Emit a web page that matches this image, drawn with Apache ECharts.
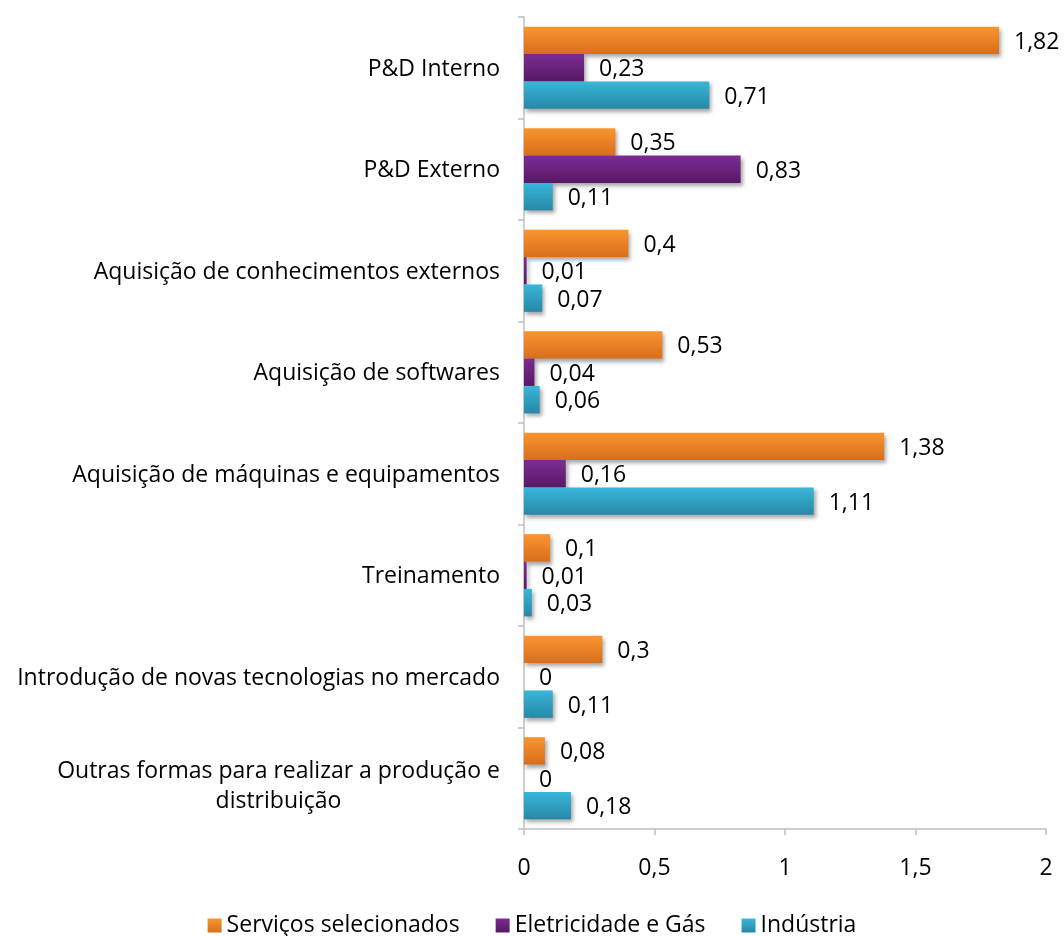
<!DOCTYPE html>
<html lang="pt-BR">
<head>
    <meta charset="UTF-8">
    <title>Atividades inovativas</title>
    <script src="https://cdn.jsdelivr.net/npm/echarts@6/dist/echarts.min.js"></script>
    <style>
        html, body { margin: 0; padding: 0; background: #fff; }
    </style>
</head>
<body>
<div id="main" style="width: 1064px;height:936px;"></div>
<script type="text/javascript">
    // categorias (de cima para baixo)
    var categorias = [
        'P&D Interno',
        'P&D Externo',
        'Aquisição de conhecimentos externos',
        'Aquisição de softwares',
        'Aquisição de máquinas e equipamentos',
        'Treinamento',
        'Introdução de novas tecnologias no mercado',
        'Outras formas para realizar a produção e\ndistribuição'
    ];
    var servicos = [1.82, 0.35, 0.4, 0.53, 1.38, 0.1, 0.3, 0.08];
    var eletricidade = [0.23, 0.83, 0.01, 0.04, 0.16, 0.01, 0, 0];
    var industria = [0.71, 0.11, 0.07, 0.06, 1.11, 0.03, 0.11, 0.18];
    var nomesSeries = ['Serviços selecionados', 'Eletricidade e Gás', 'Indústria'];
    var ticksX = [0, 0.5, 1, 1.5, 2];

    var fonte = '"Open Sans", sans-serif';
    var tam = 23;

    function virgula(v) {
        return String(v).replace('.', ',');
    }

    function gradiente(c1, c2) {
        return new echarts.graphic.LinearGradient(0, 0, 0, 1, [
            {offset: 0, color: c1},
            {offset: 1, color: c2}
        ]);
    }

    function serie(nome, dados, c1, c2) {
        return {
            name: nome,
            type: 'bar',
            data: dados,
            barGap: '0%',
            barCategoryGap: '19%',
            itemStyle: {
                color: gradiente(c1, c2),
                shadowColor: 'rgba(0,0,0,0.35)',
                shadowBlur: 4,
                shadowOffsetX: 2,
                shadowOffsetY: 3
            },
            label: {
                show: true,
                position: 'right',
                distance: 15,
                offset: [0, 2],
                color: '#000',
                fontFamily: fonte,
                fontSize: tam,
                formatter: function (p) { return virgula(p.value); }
            },
            emphasis: {disabled: true}
        };
    }

    var myEChart = echarts.init(document.getElementById('main'));
    myEChart.setOption({
        animation: false,
        color: ['#F28A2A', '#6E2683', '#2FA5C8'],
        grid: {left: 524, right: 18, top: 17, bottom: 107, containLabel: false},
        legend: {
            left: 'center',
            top: 909,
            icon: 'rect',
            itemWidth: 14,
            itemHeight: 14,
            itemGap: 36,
            textStyle: {fontFamily: fonte, fontSize: tam, color: '#000'},
            data: nomesSeries
        },
        xAxis: {
            type: 'value',
            min: ticksX[0],
            max: ticksX[ticksX.length - 1],
            interval: 0.5,
            axisLine: {show: true, lineStyle: {color: '#BFBFBF', width: 1.5}},
            axisTick: {show: true, length: 6, lineStyle: {color: '#BFBFBF', width: 1.5}},
            splitLine: {show: false},
            axisLabel: {
                color: '#000',
                fontFamily: fonte,
                fontSize: tam,
                margin: 28,
                formatter: function (v) { return virgula(v); }
            }
        },
        yAxis: {
            type: 'category',
            inverse: true,
            data: categorias,
            axisLine: {show: true, lineStyle: {color: '#BFBFBF', width: 1.5}},
            axisTick: {show: true, length: 6, lineStyle: {color: '#BFBFBF', width: 1.5}},
            axisLabel: {
                color: '#000',
                fontFamily: fonte,
                fontSize: tam,
                margin: 24,
                lineHeight: 30,
                padding: [3, 0, 0, 0],
                formatter: function (v) {
                    if (v.indexOf('\n') >= 0) {
                        var linhas = v.split('\n');
                        return '{e| }\n{c|' + linhas[0] + '}\n{c|' + linhas[1] + '}';
                    }
                    return v;
                },
                rich: {
                    e: {fontSize: 1, lineHeight: 14},
                    c: {width: 443, align: 'center', fontFamily: fonte, fontSize: tam, color: '#000', lineHeight: 30}
                }
            }
        },
        series: [
            serie(nomesSeries[0], servicos, '#F9952F', '#D86E1C'),
            serie(nomesSeries[1], eletricidade, '#7B2C93', '#561966'),
            serie(nomesSeries[2], industria, '#39B6DB', '#2788A6')
        ]
    });
</script>
</body>
</html>
